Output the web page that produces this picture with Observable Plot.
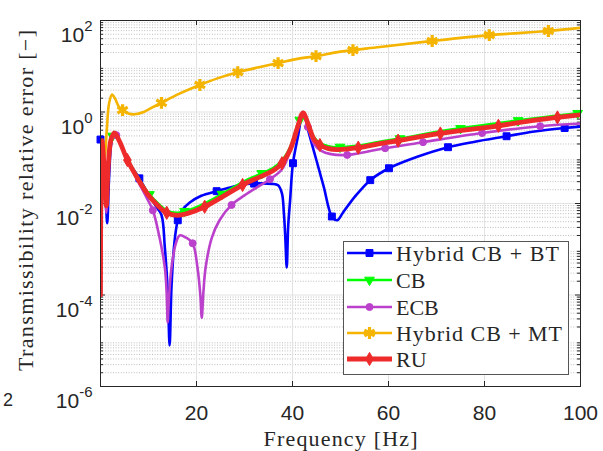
<!DOCTYPE html>
<html><head><meta charset="utf-8">
<script src="https://cdn.jsdelivr.net/npm/d3@7"></script>
<script src="https://cdn.jsdelivr.net/npm/@observablehq/plot@0.6"></script>
<style>
body{margin:0;background:#fff;}
#chart{position:relative;width:603px;height:451px;}
</style></head><body><div id="chart"></div>
<script>
// ---------- data ----------
const seriesNames = ["Hybrid CB + BT", "CB", "ECB", "Hybrid CB + MT", "RU"];

const freqBT = [0,0.5,1.0,1.4,1.8,2.3,2.9,4,5.6,8.1,10,11.5,12.7,13.4,14.0,14.4,14.8,15.4,16.1,17,18.6,21,24.2,27,30.5,33.6,35.7,37,37.8,38.2,38.5,38.8,39.1,39.5,40.1,41.2,42.2,43.5,45,46.5,48.2,49.3,50.5,53,56.2,60.1,66,72.4,78,84.6,90,96.7,100];
const errBT  = [0.25,0.126,0.025,3.7e-3,0.04,0.224,0.34,0.219,0.089,0.0355,0.0158,8.9e-3,5.6e-3,1.1e-3,1.26e-4,7.9e-6,1.6e-4,1.4e-3,4.3e-3,7.1e-3,0.0105,0.0148,0.0186,0.0224,0.0269,0.0275,0.0269,0.025,0.0166,6.3e-3,1.8e-3,4.0e-4,3.2e-3,0.0117,0.076,0.316,1.0,0.32,0.087,0.0234,5.2e-3,4.3e-3,6.3e-3,0.0141,0.0324,0.059,0.105,0.17,0.224,0.295,0.37,0.447,0.48];
const markBT = [0,8.1,16.1,24.2,32,40.1,48.2,56.2,60.1,72.4,84.6,96.7];

const freqCB = [0,0.3,0.8,1.2,1.6,2.2,2.9,4,5.6,8,10,12,13.7,16,18,21.7,25.9,30,33,36,37.8,39.6,41,42.2,43.2,44.5,45.7,47.5,49.3,53.7,58.2,62.4,70.8,82.9,91,100];
const errCB  = [1e-4,0.25,0.056,0.0112,0.071,0.263,0.355,0.229,0.093,0.0347,0.0166,0.01,7.1e-3,6.3e-3,6.9e-3,0.01,0.0174,0.0309,0.0427,0.0603,0.087,0.178,0.5,1.0,0.6,0.28,0.209,0.178,0.17,0.186,0.224,0.263,0.38,0.575,0.74,0.955];
const markCB = [2.5,10.2,17.5,25.3,33.6,41.5,49.9,62.4,75,87,99.4];

const freqECB = [0,0.3,0.8,1.2,1.6,2.2,3.0,4,5.6,8,9.5,10.9,12.3,13.4,13.8,14.0,14.3,14.8,15.7,16.5,17.8,19.2,20.2,20.8,21.1,21.4,21.9,23.2,24.8,27.3,30,33,35.3,37.8,39.5,41,42.2,43.2,44.5,46,48,51.3,55,58.7,67.2,79.5,91.6,100];
const errECB  = [1e-4,0.24,0.045,6.3e-3,0.056,0.25,0.36,0.224,0.089,0.028,0.0141,7.1e-3,1.8e-3,4.0e-4,1.0e-4,2.5e-5,1.0e-4,4.0e-4,1.35e-3,2.0e-3,1.8e-3,1.35e-3,4.0e-4,1.0e-4,3.2e-5,1.0e-4,4.0e-4,1.8e-3,4.3e-3,9.3e-3,0.0151,0.024,0.0339,0.056,0.141,0.40,0.89,0.47,0.20,0.141,0.12,0.115,0.132,0.158,0.219,0.347,0.49,0.56];
const markECB = [3.3,10.9,19.2,27.3,35.3,43.2,51.4,59.3,67.2,79.5,91.6];

const freqMT = [0,0.8,1.3,1.8,2.4,3.0,3.8,4.6,5.8,7.1,9,10.8,12.7,16,20.7,24.5,28.6,33,37,41,44.9,50,58.2,68.9,81,93.3,100];
const errMT  = [0.05,0.089,0.4,1.58,2.4,2.0,1.32,1.1,0.93,0.89,1.0,1.26,1.58,2.4,3.9,5.5,7.4,9.5,11.7,14.5,16.6,20.9,26.3,35.5,47.9,58.9,69];
const markMT = [4.6,12.7,20.7,28.6,37,44.9,52.6,69.1,81,93.3];

const freqRU = [0,0.3,0.8,1.2,1.6,2.2,2.9,4,5.6,8,10,12,13.7,16,18,21.7,25.9,30,33,36,37.8,39.6,41,42.2,43.2,44.5,45.7,47.5,49.3,53.7,58.2,62.4,70.8,82.9,91,100];
const errRU  = [1e-4,0.24,0.05,8.9e-3,0.063,0.25,0.35,0.224,0.089,0.0316,0.0151,8.9e-3,6.3e-3,5.5e-3,6.0e-3,8.5e-3,0.0151,0.0269,0.0372,0.0525,0.0759,0.158,0.447,0.955,0.56,0.25,0.19,0.158,0.151,0.166,0.204,0.24,0.339,0.5,0.676,0.871];
const markRU = [5.6,13.8,21.7,29.6,37.8,45.7,53.7,62,70.8,82.9,95.2];

const xTicks = [20,40,60,80,100];
const yTicks = [1e-6,1e-4,1e-2,1,1e2];
const yMinor = [];
for (let k = -6; k < 2; k++) for (let m = 2; m <= 9; m++) yMinor.push(m * Math.pow(10, k));

// ---------- helpers ----------
function interpLog(fs, vs, f) {
  let i = 0;
  while (i < fs.length - 2 && fs[i + 1] < f) i++;
  const t = Math.max(0, Math.min(1, (f - fs[i]) / (fs[i + 1] - fs[i])));
  return Math.pow(10, Math.log10(vs[i]) * (1 - t) + Math.log10(vs[i + 1]) * t);
}
const table = (fs, vs) => fs.map((f, i) => ({f, v: vs[i]}));
const marks = (fs, vs, ms) => ms.map(f => ({f, v: interpLog(fs, vs, f)}));

const styles = [
  {color: "#0000ff", width: 2.6, symbol: "square", r: 3.9, fill: true, rotate: 0},
  {color: "#00ff00", width: 2.6, symbol: "triangle", r: 3.6, fill: true, rotate: 180},
  {color: "#bb40cc", width: 2.6, symbol: "circle", r: 3.5, fill: true, rotate: 0},
  {color: "#f4b400", width: 2.6, symbol: "asterisk", r: 5.6, fill: false, rotate: 0},
  {color: "#ee2a2a", width: 4.8, symbol: "diamond", r: 4.0, fill: true, rotate: 0}
];
const series = [
  [freqBT, errBT, markBT],
  [freqCB, errCB, markCB],
  [freqECB, errECB, markECB],
  [freqMT, errMT, markMT],
  [freqRU, errRU, markRU]
];

const seriesMarks = [];
series.forEach(([fs, vs, ms], i) => {
  const s = styles[i];
  seriesMarks.push(Plot.line(table(fs, vs), {x: "f", y: "v", stroke: s.color, strokeWidth: s.width, curve: "catmull-rom", strokeLinejoin: "round", clip: true}));
  seriesMarks.push(Plot.dot(marks(fs, vs, ms), {x: "f", y: "v", symbol: s.symbol, r: s.r, rotate: s.rotate,
    fill: s.fill ? s.color : "none", stroke: s.color, strokeWidth: s.fill ? 1 : 3.2}));
});

const axisCol = "#262626";
const chart = Plot.plot({
  width: 603, height: 451,
  marginLeft: 100, marginRight: 23, marginTop: 20, marginBottom: 65,
  style: {background: "white", fontFamily: "Liberation Sans", color: axisCol},
  x: {domain: [0, 100]},
  y: {type: "log", domain: [1e-6, 1e2]},
  marks: [
    Plot.ruleY(yMinor, {stroke: "#bdbdbd", strokeDasharray: "1,1.6", strokeWidth: 1}),
    Plot.ruleX(xTicks.slice(0, 4), {stroke: "#e2e2e2", strokeWidth: 1}),
    Plot.ruleY(yTicks, {stroke: "#e2e2e2", strokeWidth: 1}),
    Plot.tickX(xTicks, {x: d => d, insetTop: 361, stroke: axisCol}),
    Plot.tickX(xTicks, {x: d => d, insetBottom: 361, stroke: axisCol}),
    Plot.tickY(yTicks, {y: d => d, insetRight: 475, stroke: axisCol}),
    Plot.tickY(yTicks, {y: d => d, insetLeft: 475, stroke: axisCol}),
    Plot.tickY(yMinor, {y: d => d, insetRight: 477, stroke: axisCol}),
    Plot.tickY(yMinor, {y: d => d, insetLeft: 477, stroke: axisCol}),
    ...seriesMarks,
    Plot.frame({stroke: axisCol, strokeWidth: 1}),
    Plot.axisX({ticks: xTicks, tickSize: 0, tickPadding: 19, fontSize: 21, label: null, fill: axisCol}),
    Plot.axisY({ticks: yTicks, tickSize: 0, tickPadding: 8, fontSize: 21, label: null, fill: axisCol,
      tickFormat: d => String(Math.round(Math.log10(d)))}),
    Plot.text(["Frequency [Hz]"], {frameAnchor: "bottom", textAnchor: "middle", lineAnchor: "top", dy: 44, fontFamily: "Liberation Serif", fontSize: 22, fill: axisCol, className: "xlab"}),
    Plot.text(["Transmissibility relative error [−]"], {frameAnchor: "left", textAnchor: "middle", rotate: -90, lineAnchor: "top", dx: -83, dy: -3, fontFamily: "Liberation Serif", fontSize: 22, fill: axisCol, className: "ylab"})
  ]
});
document.getElementById("chart").appendChild(chart);

const svg = d3.select(chart);
// superscript exponents on y tick labels
svg.selectAll('g[aria-label="y-axis tick label"] text').each(function() {
  const e = this.textContent;
  const t = d3.select(this);
  t.text(null).attr("dy", "0.71em");
  t.append("tspan").text("10");
  t.append("tspan").attr("font-size", 15).attr("dy", -11).text(e);
});
svg.selectAll(".xlab text").attr("textLength", 154).attr("lengthAdjust", "spacing");
svg.selectAll(".ylab text").attr("textLength", 341).attr("lengthAdjust", "spacing");

// legend
const lg = svg.append("g").attr("font-family", "Liberation Serif").attr("font-size", 22).attr("fill", axisCol).attr("text-anchor", "start");
lg.append("rect").attr("x", 343.5).attr("y", 241.5).attr("width", 225).attr("height", 133)
  .attr("fill", "white").attr("stroke", "#555").attr("stroke-width", 1);
const rowY = [253, 280, 307, 333, 359];
const symMap = {square: d3.symbolSquare, triangle: d3.symbolTriangle, circle: d3.symbolCircle, asterisk: d3.symbolAsterisk, diamond: d3.symbolDiamond};
const legendLen = [163, null, null, 166, null];
seriesNames.forEach((name, i) => {
  const s = styles[i], y = rowY[i];
  lg.append("line").attr("x1", 347).attr("x2", 392).attr("y1", y).attr("y2", y)
    .attr("stroke", s.color).attr("stroke-width", s.width);
  lg.append("path").attr("d", d3.symbol(symMap[s.symbol], Math.PI * s.r * s.r)())
    .attr("transform", `translate(369.5,${y}) rotate(${s.rotate})`)
    .attr("fill", s.fill ? s.color : "none").attr("stroke", s.color).attr("stroke-width", s.fill ? 1 : 3.2);
  const t = lg.append("text").attr("x", 396).attr("y", y + 7.5).attr("text-anchor", "start").text(name);
  if (legendLen[i]) t.attr("textLength", legendLen[i]).attr("lengthAdjust", "spacing");
});
svg.append("text").attr("x", 3).attr("y", 406).attr("text-anchor", "start").attr("font-family", "Liberation Sans").attr("font-size", 18).attr("fill", axisCol).text("2");
</script></body></html>
